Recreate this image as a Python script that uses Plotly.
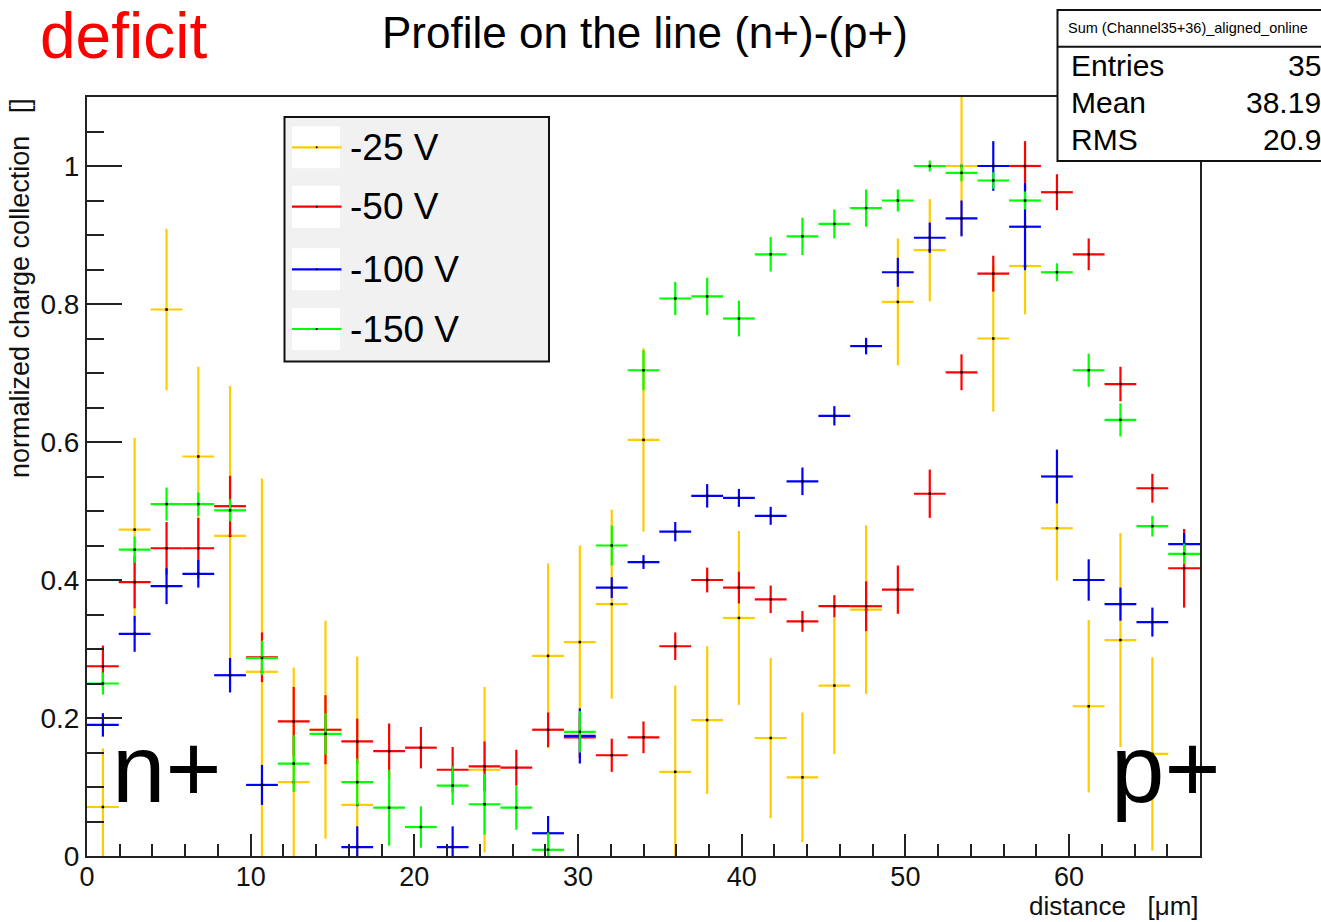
import plotly.graph_objects as go

# ---------------- data ----------------
bin_centers = [0.97, 2.91, 4.86, 6.80, 8.74, 10.69, 12.63, 14.57, 16.51, 18.46,
               20.40, 22.34, 24.29, 26.23, 28.17, 30.11, 32.06, 34.00, 35.94, 37.89,
               39.83, 41.77, 43.71, 45.66, 47.60, 49.54, 51.49, 53.43, 55.37, 57.31,
               59.26, 61.20, 63.14, 65.09, 67.03]
bin_half_width = 0.971

series_names = ["-25 V", "-50 V", "-100 V", "-150 V"]
series_colors = ["#ffcc00", "#ff0000", "#0000ff", "#00ff00"]

v25 = [0.071, 0.473, 0.792, 0.579, 0.464, 0.267, 0.107, 0.183, 0.074, None,
       None, None, 0.125, None, 0.290, 0.310, 0.365, 0.603, 0.122, 0.197,
       0.345, 0.171, 0.114, 0.247, 0.357, 0.803, 0.878, 1.000, 0.750, 0.855,
       0.475, 0.217, 0.313, 0.148, None]
e25 = [0.085, 0.133, 0.117, 0.130, 0.217, 0.280, 0.166, 0.158, 0.215, None,
       None, None, 0.120, None, 0.134, 0.140, 0.137, 0.133, 0.125, 0.107,
       0.126, 0.116, 0.094, 0.099, 0.122, 0.092, 0.074, 0.100, 0.106, 0.070,
       0.076, 0.125, 0.155, 0.140, None]

v50 = [0.275, 0.397, 0.446, 0.446, 0.507, 0.288, 0.195, 0.183, 0.166, 0.152,
       0.157, 0.125, 0.130, 0.128, 0.183, 0.172, 0.146, 0.172, 0.304, 0.400,
       0.389, 0.372, 0.340, 0.362, 0.362, 0.386, 0.525, 0.701, 0.844, 1.000,
       0.962, 0.872, 0.684, 0.533, 0.417]
e50 = [0.030, 0.038, 0.038, 0.044, 0.044, 0.036, 0.050, 0.050, 0.033, 0.040,
       0.030, 0.033, 0.036, 0.026, 0.025, 0.030, 0.024, 0.023, 0.020, 0.018,
       0.023, 0.020, 0.015, 0.016, 0.036, 0.035, 0.035, 0.026, 0.026, 0.036,
       0.026, 0.023, 0.025, 0.021, 0.057]

v100 = [0.190, 0.322, 0.391, 0.409, 0.262, 0.103, None, None, 0.013, None,
        None, 0.013, None, None, 0.033, 0.174, 0.389, 0.426, 0.470, 0.522,
        0.519, 0.493, 0.543, 0.638, 0.739, 0.846, 0.896, 0.924, 1.000, 0.912,
        0.550, 0.400, 0.365, 0.339, 0.452]
e100 = [0.017, 0.026, 0.026, 0.020, 0.025, 0.029, None, None, 0.030, None,
        None, 0.030, None, None, 0.025, 0.040, 0.015, 0.010, 0.014, 0.017,
        0.013, 0.013, 0.020, 0.014, 0.012, 0.021, 0.022, 0.026, 0.036, 0.063,
        0.039, 0.030, 0.024, 0.021, 0.016]

v150 = [0.250, 0.444, 0.510, 0.510, 0.501, 0.287, 0.134, 0.177, 0.107, 0.070,
        0.042, 0.102, 0.075, 0.070, 0.009, 0.180, 0.450, 0.704, 0.808, 0.811,
        0.779, 0.872, 0.898, 0.916, 0.939, 0.950, 1.000, 0.990, 0.979, 0.950,
        0.846, 0.704, 0.632, 0.478, 0.438]
e150 = [0.016, 0.019, 0.024, 0.017, 0.016, 0.025, 0.041, 0.030, 0.034, 0.055,
        0.030, 0.028, 0.044, 0.032, 0.025, 0.030, 0.029, 0.029, 0.024, 0.027,
        0.026, 0.025, 0.027, 0.021, 0.027, 0.016, 0.008, 0.012, 0.012, 0.013,
        0.013, 0.024, 0.024, 0.015, 0.015]

x_ticks = [0, 10, 20, 30, 40, 50, 60]
y_ticks = [0, 0.2, 0.4, 0.6, 0.8, 1.0]
y_tick_labels = ["0", "0.2", "0.4", "0.6", "0.8", "1"]

stats_title = "Sum (Channel35+36)_aligned_online"
stats_rows = [("Entries", "35"), ("Mean", "38.19"), ("RMS", "20.9")]

# ---------------- layout geometry (pixels) ----------------
W, H = 1321, 922
L, R, T, B = 87, 1200, 97, 856
FONT = "Liberation Sans, Arial, sans-serif"


def px(x):
    return (x - L) / (R - L)


def py(y):
    return (B - y) / (B - T)


fig = go.Figure()

all_vals = [v25, v50, v100, v150]
all_errs = [e25, e50, e100, e150]
for name, col, vals, errs in zip(series_names, series_colors, all_vals, all_errs):
    xs, ys, es = [], [], []
    for xc, v, e in zip(bin_centers, vals, errs):
        if v is None:
            continue
        xs.append(xc)
        ys.append(v)
        es.append(e)
    fig.add_trace(go.Scatter(
        x=xs, y=ys, mode="markers", name=name, showlegend=False,
        marker=dict(symbol="square", size=2.5, color="black", line=dict(width=0)),
        error_y=dict(type="data", array=es, visible=True, color=col, thickness=2.2, width=0),
        error_x=dict(type="constant", value=bin_half_width, visible=True, color=col,
                     thickness=2.2, width=0),
        hoverinfo="skip",
    ))

axis_col = "#222222"
fig.update_xaxes(
    range=[0, 68], showgrid=False, zeroline=False,
    showline=True, linecolor=axis_col, linewidth=2, mirror=True,
    ticks="inside", ticklen=22, tickwidth=2, tickcolor=axis_col,
    tickvals=x_ticks, ticktext=[str(t) for t in x_ticks],
    tickfont=dict(family=FONT, size=27, color="#111111"),
    ticklabelstandoff=-4,
    minor=dict(dtick=2, tick0=0, ticks="inside", ticklen=12, tickwidth=2, tickcolor=axis_col),
)
fig.update_yaxes(
    range=[0, 1.1], showgrid=False, zeroline=False,
    showline=True, linecolor=axis_col, linewidth=2, mirror=True,
    ticks="inside", ticklen=35, tickwidth=2, tickcolor=axis_col,
    tickvals=y_ticks, ticktext=y_tick_labels,
    tickfont=dict(family=FONT, size=28, color="#111111"),
    minor=dict(dtick=0.05, tick0=0, ticks="inside", ticklen=17, tickwidth=2, tickcolor=axis_col),
)

shapes = []
annotations = []

# legend box
lx0, lx1, ly0, ly1 = 284.5, 549, 117, 361.5
shapes.append(dict(type="rect", xref="paper", yref="paper", x0=px(lx0), x1=px(lx1),
                   y0=py(ly1), y1=py(ly0), fillcolor="#f1f1f1",
                   line=dict(color="#111111", width=2), layer="above"))
entry_y = [147.3, 206.7, 269.3, 329.0]
for name, col, ey in zip(series_names, series_colors, entry_y):
    shapes.append(dict(type="rect", xref="paper", yref="paper", x0=px(292), x1=px(340),
                       y0=py(ey + 21), y1=py(ey - 21), fillcolor="white",
                       line=dict(width=0), layer="above"))
    shapes.append(dict(type="line", xref="paper", yref="paper", x0=px(292), x1=px(341.5),
                       y0=py(ey), y1=py(ey), line=dict(color=col, width=2.2), layer="above"))
    shapes.append(dict(type="rect", xref="paper", yref="paper", x0=px(315.8), x1=px(317.6),
                       y0=py(ey + 0.9), y1=py(ey - 0.9), fillcolor="black",
                       line=dict(width=0), layer="above"))
    annotations.append(dict(xref="paper", yref="paper", x=px(348), y=py(ey), text=name,
                            showarrow=False, xanchor="left", yanchor="middle",
                            font=dict(family=FONT, size=37, color="black")))

# stats box
sx0, sx1, sy0, sy1, ssep = 1057.5, 1340, 10, 161, 46.7
shapes.append(dict(type="rect", xref="paper", yref="paper", x0=px(sx0), x1=px(sx1),
                   y0=py(sy1), y1=py(sy0), fillcolor="white",
                   line=dict(color="#111111", width=2), layer="above"))
shapes.append(dict(type="line", xref="paper", yref="paper", x0=px(sx0), x1=px(sx1),
                   y0=py(ssep), y1=py(ssep), line=dict(color="#111111", width=2), layer="above"))
annotations.append(dict(xref="paper", yref="paper", x=px(1066), y=py(28), text=stats_title,
                        showarrow=False, xanchor="left", yanchor="middle",
                        font=dict(family=FONT, size=14.5, color="black")))
for (lab, val), ry in zip(stats_rows, [65, 103, 140]):
    annotations.append(dict(xref="paper", yref="paper", x=px(1069), y=py(ry), text=lab,
                            showarrow=False, xanchor="left", yanchor="middle",
                            font=dict(family=FONT, size=30, color="black")))
    annotations.append(dict(xref="paper", yref="paper", x=px(1323), y=py(ry), text=val,
                            showarrow=False, xanchor="right", yanchor="middle",
                            font=dict(family=FONT, size=30, color="black")))

# title
annotations.append(dict(xref="paper", yref="paper", x=px(645), y=py(33),
                        text="Profile on the line (n+)-(p+)", showarrow=False,
                        xanchor="center", yanchor="middle",
                        font=dict(family=FONT, size=44, color="black")))
# deficit
annotations.append(dict(xref="paper", yref="paper", x=px(38), y=py(36),
                        text="deficit", showarrow=False, xanchor="left", yanchor="middle",
                        font=dict(family=FONT, size=64, color="#ff0000")))
# axis titles
annotations.append(dict(xref="paper", yref="paper", x=px(1200), y=py(921.5),
                        text="distance   [\u03bcm]", showarrow=False,
                        xanchor="right", yanchor="bottom", borderpad=0,
                        font=dict(family=FONT, size=26, color="#111111")))
annotations.append(dict(xref="paper", yref="paper", x=px(36), y=py(97),
                        text="normalized charge collection   []", showarrow=False,
                        textangle=-90, xanchor="right", yanchor="top", borderpad=0,
                        font=dict(family=FONT, size=27, color="#111111")))
# n+ / p+
annotations.append(dict(xref="paper", yref="paper", x=px(110), y=py(768),
                        text="n+", showarrow=False, xanchor="left", yanchor="middle",
                        font=dict(family=FONT, size=96, color="black")))
annotations.append(dict(xref="paper", yref="paper", x=px(1109), y=py(768),
                        text="p+", showarrow=False, xanchor="left", yanchor="middle",
                        font=dict(family=FONT, size=96, color="black")))

fig.update_layout(
    width=W, height=H,
    margin=dict(l=L, r=W - R, t=T, b=H - B, pad=0),
    paper_bgcolor="white", plot_bgcolor="white",
    shapes=shapes, annotations=annotations, showlegend=False,
)

fig.write_html("out.html")
